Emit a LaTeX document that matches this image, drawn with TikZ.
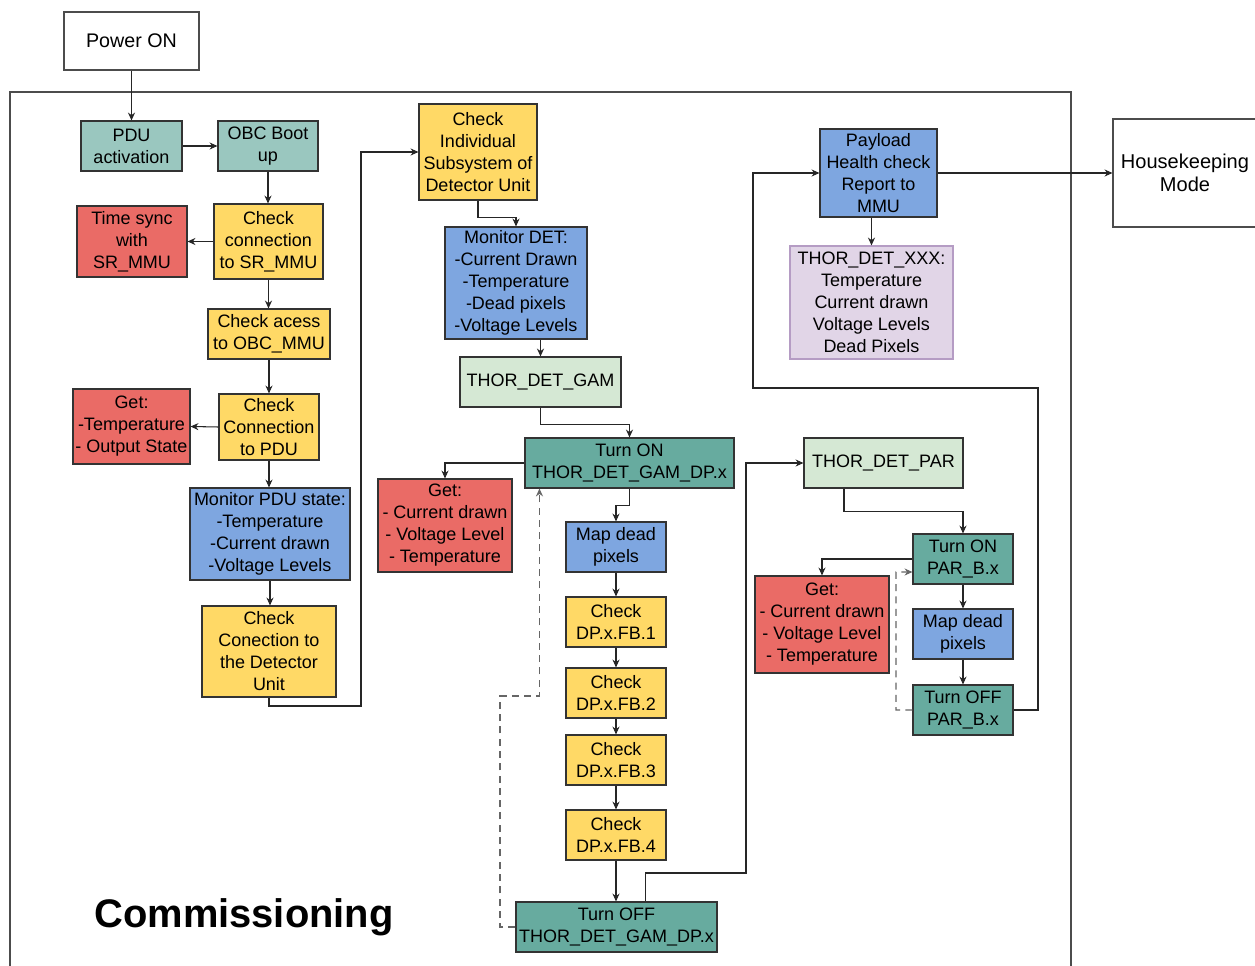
\documentclass[tikz,border=0pt]{standalone}
\usepackage{fontspec}
\setmainfont{Liberation Sans}
\usetikzlibrary{arrows.meta}

\definecolor{tealL}{HTML}{9AC7BF}
\definecolor{tealD}{HTML}{67AB9F}
\definecolor{yel}{HTML}{FFD966}
\definecolor{redc}{HTML}{EA6B66}
\definecolor{blu}{HTML}{7EA6E0}
\definecolor{grn}{HTML}{D5E8D4}
\definecolor{pur}{HTML}{E1D5E7}
\definecolor{purB}{HTML}{B59CC4}
\definecolor{edge}{HTML}{333333}

% box given by its corner pixels: name, x1, y1, x2, y2, style, text
\newcommand\bx[7]{\node[#6, minimum width={(#4-#2)*0.02cm}, minimum height={(#5-#3)*0.02cm}] (#1) at ({(#2+#4)/2},{(#3+#5)/2}) {#7};}

\tikzset{
  base/.style={draw=edge, line width=0.6pt, inner sep=0pt, align=center,
    font=\fontsize{10.24}{12.5}\selectfont},
  plain/.style={base, fill=white, draw=black!70},
  tl/.style={base, fill=tealL},
  td/.style={base, fill=tealD},
  yl/.style={base, fill=yel},
  rd/.style={base, fill=redc},
  bl/.style={base, fill=blu},
  gn/.style={base, fill=grn},
  pu/.style={base, fill=pur, draw=purB},
  arr/.style={draw=black!85, line width=0.6pt, -{Stealth[length=4.5pt,width=4pt]}},
  dsh/.style={draw=black!60, line width=0.6pt, dash pattern=on 4pt off 3pt},
}

\begin{document}
\begin{tikzpicture}[x=0.02cm,y=-0.02cm]
\useasboundingbox (0,0) rectangle (1255,966);
\clip (0,0) rectangle (1255,966);

% outer frame of the commissioning phase
\draw[draw=black!70, line width=0.6pt] (10,980) -- (10,92) -- (1071,92) -- (1071,980);

\bx{pwr}{64}{12}{199}{70}{plain, font=\fontsize{11.2}{13.2}\selectfont}{Power ON}
\bx{pdu}{81}{121}{182}{171}{tl}{PDU\\activation}
\bx{obc}{218}{121}{318}{171}{tl}{OBC Boot\\up}
\bx{tsync}{77}{206}{187}{277}{rd}{Time sync\\with\\SR\_MMU}
\bx{chksr}{214}{204}{323}{279}{yl}{Check\\connection\\to SR\_MMU}
\bx{acc}{208}{309}{330}{359}{yl}{Check acess\\to OBC\_MMU}
\bx{getpdu}{73}{389}{190}{464}{rd}{Get:\\-Temperature\\- Output State}
\bx{chkpdu}{219}{394}{319}{460}{yl}{Check\\Connection\\to PDU}
\bx{monpdu}{190}{488}{350}{580}{bl}{Monitor PDU state:\\-Temperature\\-Current drawn\\-Voltage Levels}
\bx{chkdet}{202}{606}{336}{697}{yl}{Check\\Conection to\\the Detector\\Unit}

\bx{chkind}{419}{104}{537}{200}{yl}{Check\\Individual\\Subsystem of\\Detector Unit}
\bx{mondet}{445}{227}{587}{339}{bl}{Monitor DET:\\-Current Drawn\\-Temperature\\-Dead pixels\\-Voltage Levels}
\bx{gam}{460}{357}{621}{407}{gn}{THOR\_DET\_GAM}
\bx{ongam}{525}{438}{734}{488}{td}{Turn ON\\THOR\_DET\_GAM\_DP.x}
\bx{getgam}{378}{479}{512}{572}{rd}{Get:\\- Current drawn\\- Voltage Level\\- Temperature}
\bx{mapgam}{566}{522}{666}{572}{bl}{Map dead\\pixels}
\bx{fba}{566}{597}{666}{647}{yl}{Check\\DP.x.FB.1}
\bx{fbb}{566}{668}{666}{718}{yl}{Check\\DP.x.FB.2}
\bx{fbc}{566}{735}{666}{785}{yl}{Check\\DP.x.FB.3}
\bx{fbd}{566}{810}{666}{860}{yl}{Check\\DP.x.FB.4}
\bx{offgam}{516}{902}{717}{952}{td}{Turn OFF\\THOR\_DET\_GAM\_DP.x}

\bx{par}{804}{438}{963}{488}{gn}{THOR\_DET\_PAR}
\bx{onpar}{913}{534}{1013}{584}{td}{Turn ON\\PAR\_B.x}
\bx{getpar}{755}{576}{889}{673}{rd}{Get:\\- Current drawn\\- Voltage Level\\- Temperature}
\bx{mappar}{913}{609}{1013}{659}{bl}{Map dead\\pixels}
\bx{offpar}{913}{685}{1013}{735}{td}{Turn OFF\\PAR\_B.x}

\bx{pay}{820}{129}{937}{217}{bl}{Payload\\Health check\\Report to\\MMU}
\bx{xxx}{790}{246}{953}{359}{pu}{THOR\_DET\_XXX:\\Temperature\\Current drawn\\Voltage Levels\\Dead Pixels}
\bx{house}{1113}{119}{1257}{227}{plain, font=\fontsize{11.4}{13.2}\selectfont}{Housekeeping\\Mode}

\node[font=\bfseries\fontsize{22.7}{26}\selectfont, inner sep=0pt] (title) at (244,917) {Commissioning};

% routing points
\coordinate (r1) at (361,706);
\coordinate (c1) at (746,873);
\coordinate (d1) at (500,696);
\coordinate (d2) at (896,572);
\coordinate (c2) at (1038,388);
\coordinate (c3) at (753,388);

% power-up and bus checks
\draw[arr] (pwr.south) -- (pdu.north);
\draw[arr] (pdu.east) -- (obc.west);
\draw[arr] (obc.south) -- (obc.south |- chksr.north);
\draw[arr] (chksr.west) -- (tsync.east);
\draw[arr] (chksr.south) -- (chksr.south |- acc.north);
\draw[arr] (acc.south) -- (acc.south |- chkpdu.north);
\draw[arr] (chkpdu.west) -- (getpdu.east);
\draw[arr] (chkpdu.south) -- (chkpdu.south |- monpdu.north);
\draw[arr] (monpdu.south) -- (monpdu.south |- chkdet.north);
\draw[arr] (chkdet.south) |- (r1) |- (chkind.west);

% detector unit
\draw[arr] (chkind.south) -- ++(0,17) -| (mondet.north);
\draw[arr] (gam.north |- mondet.south) -- (gam.north);
\draw[arr] (gam.south) -- ++(0,17) -| (ongam.north);
\draw[arr] (ongam.west) -| (getgam.north);
\draw[arr] (ongam.south) -- ++(0,17) -| (mapgam.north);
\draw[arr] (mapgam.south) -- (fba.north);
\draw[arr] (fba.south) -- (fbb.north);
\draw[arr] (fbb.south) -- (fbc.north);
\draw[arr] (fbc.south) -- (fbd.north);
\draw[arr] (fbd.south) -- (fbd.south |- offgam.north);
\draw[dsh, -{Stealth[length=4.5pt,width=4pt]}] (offgam.west) -| (d1) -| ([xshift=0.3cm]ongam.south west);
\draw[arr] ([xshift=0.58cm]offgam.north) |- (c1) |- (par.west);

% PAR branch
\draw[arr] ([xshift=-0.79cm]par.south) -- ++(0,23) -| (onpar.north);
\draw[arr] (onpar.west) -| (getpar.north);
\draw[arr] (onpar.south) -- (mappar.north);
\draw[arr] (mappar.south) -- (offpar.north);
\draw[dsh, -{Stealth[length=4.5pt,width=4pt]}] (offpar.west) -| (d2) -- ([yshift=-0.26cm]onpar.west);
\draw[arr] (offpar.east) -| (c2) -- (c3) |- (pay.west);

% report and exit
\draw[arr] (xxx.north |- pay.south) -- (xxx.north);
\draw[arr] (pay.east) -- (house.west);
\end{tikzpicture}
\end{document}
